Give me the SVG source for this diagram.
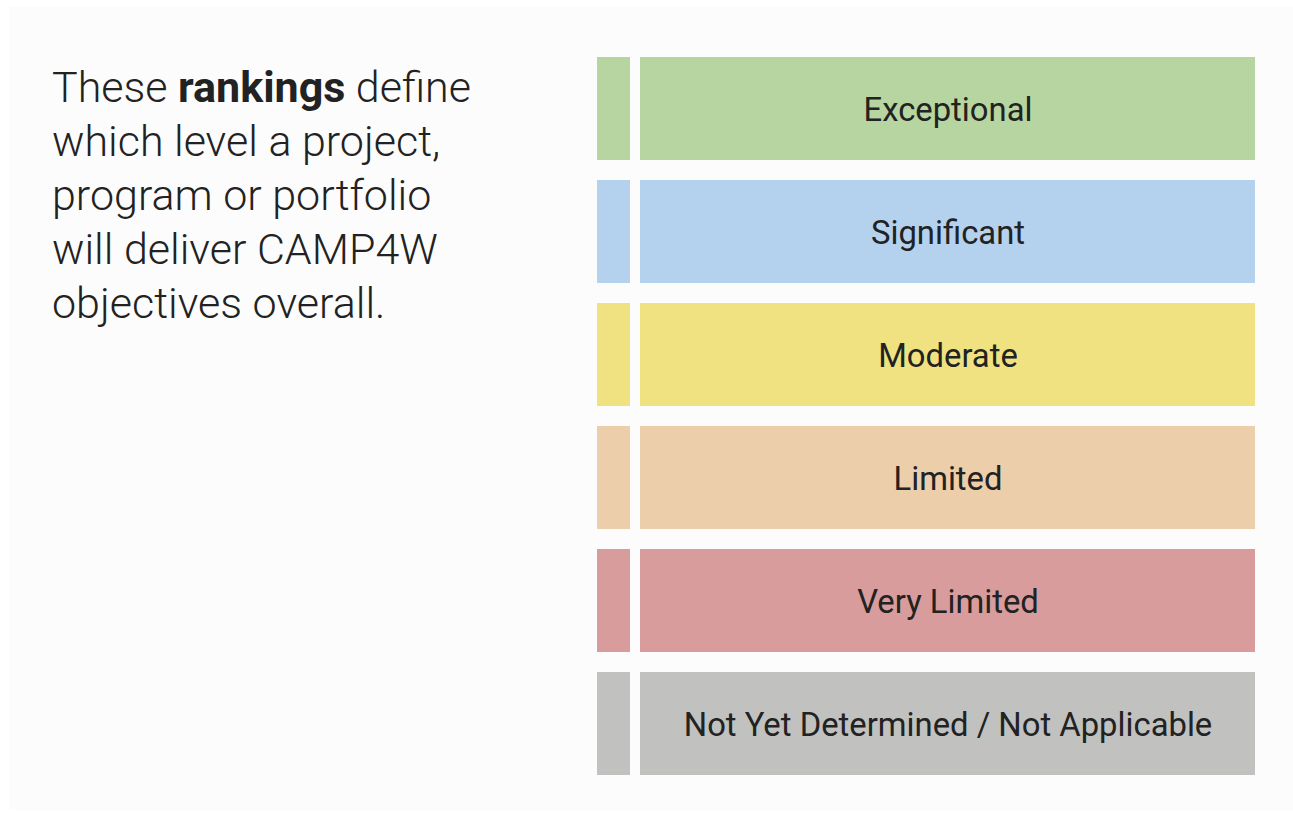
<svg xmlns="http://www.w3.org/2000/svg" width="1293" height="816" viewBox="0 0 1293 816">
<style>
.lbl{font-family:Roboto,"Liberation Sans",sans-serif;font-size:32.8px;fill:#222;text-anchor:middle}
.intro{font-family:Roboto,"Liberation Sans",sans-serif;font-size:43px;font-weight:300;fill:#222}
</style>
<rect x="0" y="0" width="1293" height="816" fill="#ffffff"/>
<rect x="9" y="7" width="1284" height="803" fill="#fcfcfc"/>
<g id="intro">
<text class="intro" x="52" y="102">These <tspan font-weight="700">rankings</tspan> define</text>
<text class="intro" x="52" y="156">which level a project,</text>
<text class="intro" x="52" y="210">program or portfolio</text>
<text class="intro" x="52" y="264">will deliver CAMP4W</text>
<text class="intro" x="52" y="318">objectives overall.</text>
</g>
<g id="exceptional">
<rect x="597" y="57" width="33" height="103" fill="#b7d5a0"/>
<rect x="640" y="57" width="615" height="103" fill="#b7d5a0"/>
<text class="lbl" x="948" y="121">Exceptional</text>
</g>
<g id="significant">
<rect x="597" y="180" width="33" height="103" fill="#b4d1ee"/>
<rect x="640" y="180" width="615" height="103" fill="#b4d1ee"/>
<text class="lbl" x="948" y="244">Significant</text>
</g>
<g id="moderate">
<rect x="597" y="303" width="33" height="103" fill="#f0e280"/>
<rect x="640" y="303" width="615" height="103" fill="#f0e280"/>
<text class="lbl" x="948" y="367">Moderate</text>
</g>
<g id="limited">
<rect x="597" y="426" width="33" height="103" fill="#ecceab"/>
<rect x="640" y="426" width="615" height="103" fill="#ecceab"/>
<text class="lbl" x="948" y="490">Limited</text>
</g>
<g id="very-limited">
<rect x="597" y="549" width="33" height="103" fill="#d89c9c"/>
<rect x="640" y="549" width="615" height="103" fill="#d89c9c"/>
<text class="lbl" x="948" y="613">Very Limited</text>
</g>
<g id="not-determined">
<rect x="597" y="672" width="33" height="103" fill="#c1c1c0"/>
<rect x="640" y="672" width="615" height="103" fill="#c1c1c0"/>
<text class="lbl" x="948" y="736">Not Yet Determined / Not Applicable</text>
</g>
<g id="connectors"/>
</svg>
